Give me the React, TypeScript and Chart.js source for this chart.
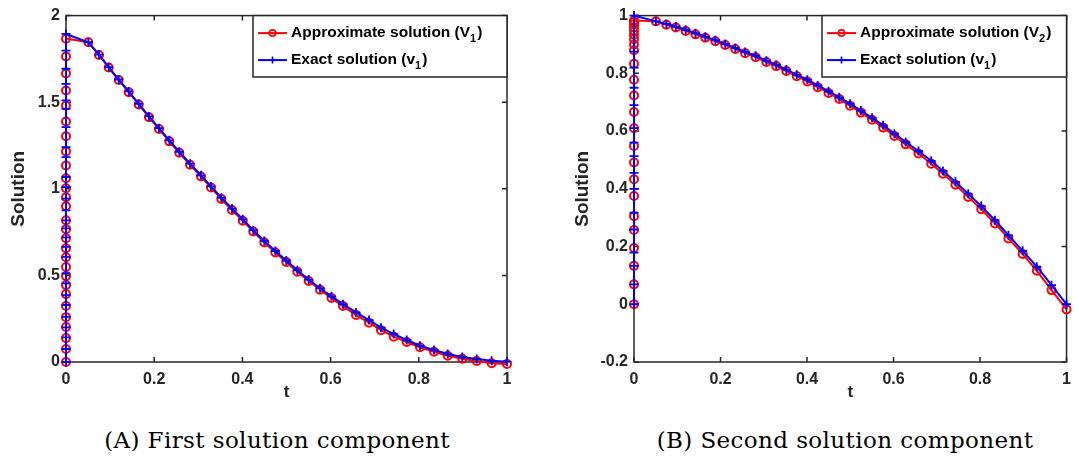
import React, { useEffect, useRef } from "react";
import { Chart, registerables } from "chart.js";

Chart.register(...registerables);

// ---------- DATA ----------
// t of the boundary-layer points (all stacked at the left edge)
const layerT = 0;
// regular part of the mesh
const tMesh = [
  0.0506, 0.0748, 0.0968, 0.1195, 0.1422, 0.1649, 0.1882, 0.2109, 0.2342, 0.2569,
  0.2812, 0.3061, 0.3288, 0.3522, 0.3764, 0.4007, 0.4247, 0.4497, 0.4746, 0.4995,
  0.5245, 0.5503, 0.576, 0.602, 0.6281, 0.6576, 0.6871, 0.7143, 0.7431, 0.7726,
  0.8027, 0.8345, 0.8656, 0.8986, 0.9313, 0.9653, 1.0,
];

// (A) first component
const approx1Layer = [
  0, 0.075, 0.138, 0.202, 0.259, 0.323, 0.392, 0.444, 0.496, 0.548, 0.605, 0.657,
  0.715, 0.767, 0.818, 0.899, 0.951, 1.003, 1.061, 1.135, 1.216, 1.303, 1.389,
  1.481, 1.568, 1.666, 1.764, 1.867,
];
const exact1Layer = [
  0, 0.075, 0.142, 0.2, 0.261, 0.329, 0.386, 0.454, 0.511, 0.607, 0.665, 0.719,
  0.771, 0.818, 0.876, 0.943, 1.01, 1.068, 1.183, 1.241, 1.356, 1.462, 1.51, 1.606,
  1.693, 1.798, 1.894,
];
const approx1 = [
  1.846, 1.773, 1.7, 1.628, 1.558, 1.487, 1.413, 1.345, 1.274, 1.208, 1.139, 1.071,
  1.007, 0.941, 0.878, 0.816, 0.753, 0.69, 0.632, 0.577, 0.521, 0.468, 0.417, 0.369,
  0.323, 0.271, 0.227, 0.184, 0.146, 0.115, 0.085, 0.059, 0.036, 0.019, 0.006,
  -0.007, -0.012,
];
const exact1 = [
  1.846, 1.775, 1.702, 1.631, 1.562, 1.491, 1.418, 1.35, 1.28, 1.214, 1.145, 1.078,
  1.014, 0.949, 0.886, 0.824, 0.761, 0.699, 0.641, 0.586, 0.53, 0.476, 0.426, 0.379,
  0.334, 0.286, 0.242, 0.198, 0.161, 0.127, 0.094, 0.069, 0.046, 0.029, 0.017,
  0.007, 0.002,
];

// (B) second component
const approx2Layer = [
  0, 0.069, 0.133, 0.195, 0.257, 0.305, 0.375, 0.433, 0.491, 0.548, 0.61, 0.666,
  0.723, 0.778, 0.833, 0.88, 0.9, 0.918, 0.934, 0.948, 0.96, 0.97, 0.978, 0.983,
];
const exact2Layer = [
  0, 0.069, 0.133, 0.179, 0.259, 0.317, 0.4, 0.455, 0.513, 0.56, 0.61, 0.69, 0.75,
  0.82, 0.875, 1.0,
];
const approx2 = [
  0.98, 0.968, 0.959, 0.947, 0.935, 0.923, 0.911, 0.898, 0.884, 0.87, 0.856, 0.839,
  0.825, 0.808, 0.79, 0.772, 0.752, 0.732, 0.711, 0.688, 0.664, 0.639, 0.612, 0.583,
  0.554, 0.522, 0.487, 0.452, 0.414, 0.372, 0.329, 0.28, 0.228, 0.174, 0.116, 0.049,
  -0.018,
];
const exact2 = [
  0.98, 0.971, 0.962, 0.951, 0.939, 0.927, 0.915, 0.902, 0.888, 0.874, 0.861, 0.844,
  0.83, 0.813, 0.795, 0.778, 0.758, 0.738, 0.717, 0.695, 0.671, 0.646, 0.62, 0.591,
  0.562, 0.531, 0.497, 0.462, 0.424, 0.383, 0.34, 0.291, 0.239, 0.185, 0.13, 0.066,
  0,
];

const xTickValues = [0, 0.2, 0.4, 0.6, 0.8, 1];
const xTickLabels = ["0", "0.2", "0.4", "0.6", "0.8", "1"];
const y1TickValues = [0, 0.5, 1, 1.5, 2];
const y1TickLabels = ["0", "0.5", "1", "1.5", "2"];
const y2TickValues = [-0.2, 0, 0.2, 0.4, 0.6, 0.8, 1];
const y2TickLabels = ["-0.2", "0", "0.2", "0.4", "0.6", "0.8", "1"];

const legend1 = [
  { main: "Approximate solution (V", sub: "1", tail: ")" },
  { main: "Exact solution (v", sub: "1", tail: ")" },
];
const legend2 = [
  { main: "Approximate solution (V", sub: "2", tail: ")" },
  { main: "Exact solution (v", sub: "1", tail: ")" },
];
const captionA = "(A) First solution component";
const captionB = "(B) Second solution component";

// ---------- STYLE ----------
const AXIS = "#262626";
const RED = "#ff0000";
const BLUE = "#0000ff";
const SANS = '"Liberation Sans", Arial, sans-serif';

function pts(layer: number[], curve: number[]) {
  return [
    ...layer.map((y) => ({ x: layerT, y })),
    ...curve.map((y, i) => ({ x: tMesh[i], y })),
  ];
}

const framePlugin = {
  id: "matlabFrame",
  beforeDatasetsDraw(chart: any) {
    const { ctx, chartArea: a, scales } = chart;
    ctx.save();
    ctx.strokeStyle = AXIS;
    ctx.lineWidth = 1.5;
    ctx.strokeRect(a.left, a.top, a.right - a.left, a.bottom - a.top);
    const L = 5;
    ctx.beginPath();
    for (const t of scales.x.ticks) {
      const px = scales.x.getPixelForValue(t.value);
      ctx.moveTo(px, a.bottom);
      ctx.lineTo(px, a.bottom - L);
      ctx.moveTo(px, a.top);
      ctx.lineTo(px, a.top + L);
    }
    for (const t of scales.y.ticks) {
      const py = scales.y.getPixelForValue(t.value);
      ctx.moveTo(a.left, py);
      ctx.lineTo(a.left + L, py);
      ctx.moveTo(a.right, py);
      ctx.lineTo(a.right - L, py);
    }
    ctx.stroke();
    ctx.restore();
  },
};

const legendPlugin = {
  id: "matlabLegend",
  afterDraw(chart: any, _args: any, opts: any) {
    const { ctx, chartArea: a } = chart;
    const left = opts.boxLeft;
    const top = a.top;
    const right = a.right;
    const bottom = opts.boxBottom;
    ctx.save();
    ctx.fillStyle = "#ffffff";
    ctx.fillRect(left, top, right - left, bottom - top);
    ctx.strokeStyle = AXIS;
    ctx.lineWidth = 1.5;
    ctx.strokeRect(left, top, right - left, bottom - top);
    const rows = [
      { color: RED, marker: "circle", y: top + 17.5 },
      { color: BLUE, marker: "cross", y: top + 44.5 },
    ];
    opts.entries.forEach((e: any, i: number) => {
      const r = rows[i];
      const x0 = left + 5;
      const x1 = left + 34;
      ctx.strokeStyle = r.color;
      ctx.lineWidth = 2;
      ctx.beginPath();
      ctx.moveTo(x0, r.y);
      ctx.lineTo(x1, r.y);
      ctx.stroke();
      const cx = (x0 + x1) / 2;
      ctx.lineWidth = 1.6;
      ctx.beginPath();
      if (r.marker === "circle") {
        ctx.arc(cx, r.y, 3.2, 0, Math.PI * 2);
      } else {
        ctx.moveTo(cx - 3.5, r.y);
        ctx.lineTo(cx + 3.5, r.y);
        ctx.moveTo(cx, r.y - 3.5);
        ctx.lineTo(cx, r.y + 3.5);
      }
      ctx.stroke();
      ctx.fillStyle = "#000000";
      ctx.textBaseline = "middle";
      ctx.textAlign = "left";
      let tx = left + 38;
      ctx.font = `bold 15.5px ${SANS}`;
      ctx.fillText(e.main, tx, r.y);
      tx += ctx.measureText(e.main).width;
      ctx.font = `bold 11px ${SANS}`;
      ctx.fillText(e.sub, tx, r.y + 6);
      tx += ctx.measureText(e.sub).width + 1;
      ctx.font = `bold 15.5px ${SANS}`;
      ctx.fillText(e.tail, tx, r.y);
    });
    ctx.restore();
  },
};

type PanelProps = {
  width: number;
  height: number;
  yAxisWidth: number;
  rightPad: number;
  yTitlePad: number;
  approxLayer: number[];
  exactLayer: number[];
  approx: number[];
  exact: number[];
  yMin: number;
  yMax: number;
  yTickValues: number[];
  yTickLabels: string[];
  legendEntries: any[];
  legendLeft: number;
};

function Panel(p: PanelProps) {
  const ref = useRef<HTMLCanvasElement | null>(null);
  useEffect(() => {
    if (!ref.current) return;
    const tickFont = { family: SANS, size: 16, weight: "bold" as const };
    const titleFont = { family: SANS, size: 17, weight: "bold" as const };
    const yTitleFont = { family: SANS, size: 19, weight: "bold" as const };
    const chart = new Chart(ref.current, {
      type: "scatter",
      data: {
        datasets: [
          {
            label: "Exact",
            data: pts(p.exactLayer, p.exact),
            showLine: true,
            borderColor: BLUE,
            backgroundColor: BLUE,
            borderWidth: 2,
            pointStyle: "cross",
            pointRadius: 4.5,
            pointBorderWidth: 1.8,
            pointBorderColor: BLUE,
            order: 0,
            clip: false,
          } as any,
          {
            label: "Approx",
            data: pts(p.approxLayer, p.approx),
            showLine: true,
            borderColor: RED,
            backgroundColor: "rgba(0,0,0,0)",
            borderWidth: 2,
            pointStyle: "circle",
            pointRadius: 4,
            pointBorderWidth: 2,
            pointBorderColor: RED,
            order: 1,
            clip: false,
          } as any,
        ],
      },
      options: {
        animation: false,
        responsive: false,
        maintainAspectRatio: false,
        events: [],
        layout: { padding: { top: 15, right: p.rightPad, left: 0, bottom: 0 } },
        plugins: {
          legend: { display: false },
          tooltip: { enabled: false },
          matlabLegend: { entries: p.legendEntries, boxLeft: p.legendLeft, boxBottom: 77 },
        } as any,
        scales: {
          x: {
            type: "linear",
            min: 0,
            max: 1,
            afterBuildTicks: (s: any) => {
              s.ticks = xTickValues.map((v) => ({ value: v }));
            },
            afterFit: (s: any) => {
              s.height = p.height - 362;
            },
            grid: { display: false, drawTicks: false },
            border: { display: false },
            ticks: {
              callback: (_v: any, i: number) => xTickLabels[i],
              font: tickFont,
              color: AXIS,
              padding: 8,
              maxRotation: 0,
              autoSkip: false,
            },
            title: {
              display: true,
              text: "t",
              font: titleFont,
              color: AXIS,
              padding: { top: 0, bottom: 7 },
            },
          },
          y: {
            type: "linear",
            min: p.yMin,
            max: p.yMax,
            afterBuildTicks: (s: any) => {
              s.ticks = p.yTickValues.map((v) => ({ value: v }));
            },
            afterFit: (s: any) => {
              s.width = p.yAxisWidth;
            },
            grid: { display: false, drawTicks: false },
            border: { display: false },
            ticks: {
              callback: (_v: any, i: number) => p.yTickLabels[i],
              font: tickFont,
              color: AXIS,
              padding: 6,
              autoSkip: false,
            },
            title: {
              display: true,
              text: "Solution",
              font: yTitleFont,
              color: AXIS,
              padding: { top: p.yTitlePad, bottom: 0 },
            },
          },
        },
      },
      plugins: [framePlugin, legendPlugin],
    });
    return () => chart.destroy();
  }, []);
  return <canvas ref={ref} width={p.width} height={p.height} style={{ display: "block", width: p.width, height: p.height }} />;
}

export default function App() {
  useEffect(() => {
    document.body.style.margin = "0";
  }, []);
  const H = 410;
  const captionStyle: React.CSSProperties = {
    position: "absolute",
    top: 424,
    fontFamily: '"DejaVu Serif", "Liberation Serif", serif',
    fontSize: 23,
    letterSpacing: "0.4px",
    color: "#000",
    textAlign: "center",
    whiteSpace: "nowrap",
    lineHeight: "32px",
  };
  return (
    <div style={{ position: "relative", width: 1079, height: 457, background: "#fff", overflow: "hidden" }}>
      <div style={{ position: "absolute", left: 0, top: 0 }}>
        <Panel
          width={540}
          height={H}
          yAxisWidth={66}
          rightPad={33}
          yTitlePad={7}
          approxLayer={approx1Layer}
          exactLayer={exact1Layer}
          approx={approx1}
          exact={exact1}
          yMin={0}
          yMax={2}
          yTickValues={y1TickValues}
          yTickLabels={y1TickLabels}
          legendEntries={legend1}
          legendLeft={253}
        />
      </div>
      <div style={{ position: "absolute", left: 560, top: 0 }}>
        <Panel
          width={519}
          height={H}
          yAxisWidth={74}
          rightPad={4}
          yTitlePad={11}
          approxLayer={approx2Layer}
          exactLayer={exact2Layer}
          approx={approx2}
          exact={exact2}
          yMin={-0.2}
          yMax={1}
          yTickValues={y2TickValues}
          yTickLabels={y2TickLabels}
          legendEntries={legend2}
          legendLeft={262}
        />
      </div>
      <div style={{ ...captionStyle, left: 27, width: 500 }}>{captionA}</div>
      <div style={{ ...captionStyle, left: 595, width: 500 }}>{captionB}</div>
    </div>
  );
}
